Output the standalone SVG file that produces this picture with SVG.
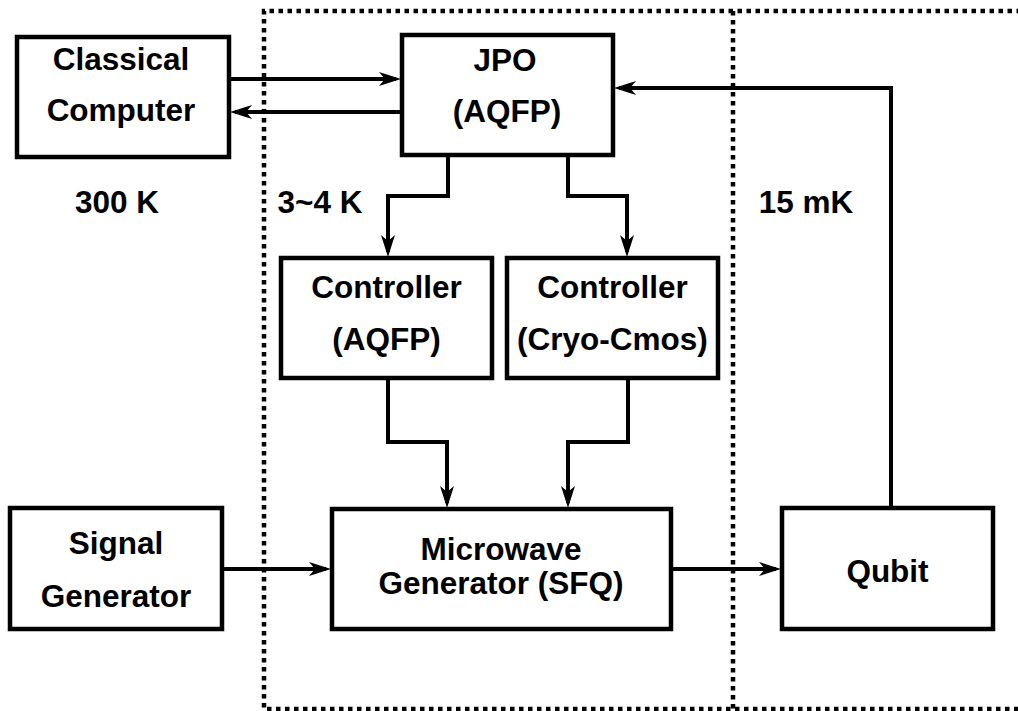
<svg xmlns="http://www.w3.org/2000/svg" width="1018" height="711" viewBox="0 0 1018 711">
<style>
.box{fill:#fff;stroke:#000;stroke-width:4.5}
.t{font-family:"Liberation Sans",Arial,sans-serif;font-weight:bold;font-size:31.5px;fill:#000;text-anchor:middle}
.c{fill:none;stroke:#000;stroke-width:4}
.dot{fill:none;stroke:#000;stroke-width:4.5;stroke-dasharray:4.5 4.5}
</style>
<defs>
<marker id="ah" markerUnits="userSpaceOnUse" markerWidth="24" markerHeight="18" viewBox="0 0 24 18" refX="18" refY="9" orient="auto">
<path d="M1,2 L23,9 L1,16 L7,9 Z" fill="#000"/>
</marker>
</defs>
<rect width="1018" height="711" fill="#fff"/>
<g id="regions">
<path class="dot" d="M1030,11 H264 V709 H1030"/>
<path class="dot" d="M733,11 V709"/>
<text class="t" x="117" y="213">300 K</text>
<text class="t" x="320" y="213">3~4 K</text>
<text class="t" x="806" y="213">15 mK</text>
</g>
<g id="connectors">
<path class="c" d="M229,79 H396" marker-end="url(#ah)"/>
<path class="c" d="M402,112 H235" marker-end="url(#ah)"/>
<path class="c" d="M891,508 V88 H619" marker-end="url(#ah)"/>
<path class="c" d="M448,155 V196 H388 V252" marker-end="url(#ah)"/>
<path class="c" d="M568,155 V196 H627 V252" marker-end="url(#ah)"/>
<path class="c" d="M388,378 V442 H447 V503" marker-end="url(#ah)"/>
<path class="c" d="M628,378 V442 H568 V503" marker-end="url(#ah)"/>
<path class="c" d="M222,569 H326" marker-end="url(#ah)"/>
<path class="c" d="M671,569 H776" marker-end="url(#ah)"/>
</g>
<g id="classical">
<rect class="box" x="17" y="37" width="212" height="120"/>
<text class="t" x="121" y="70">Classical</text>
<text class="t" x="121" y="121">Computer</text>
</g>
<g id="jpo">
<rect class="box" x="402" y="35" width="211" height="120"/>
<text class="t" x="505" y="71">JPO</text>
<text class="t" x="507" y="122">(AQFP)</text>
</g>
<g id="ctrl-aqfp">
<rect class="box" x="281" y="258" width="211" height="120"/>
<text class="t" x="386.5" y="298">Controller</text>
<text class="t" x="386.5" y="350">(AQFP)</text>
</g>
<g id="ctrl-cmos">
<rect class="box" x="507" y="258" width="211" height="120"/>
<text class="t" x="612.5" y="298">Controller</text>
<text class="t" x="612.5" y="350">(Cryo-Cmos)</text>
</g>
<g id="microwave">
<rect class="box" x="332" y="509" width="339" height="120"/>
<text class="t" x="501" y="560">Microwave</text>
<text class="t" x="501" y="594">Generator (SFQ)</text>
</g>
<g id="signal">
<rect class="box" x="10" y="508" width="212" height="121"/>
<text class="t" x="116" y="554">Signal</text>
<text class="t" x="116" y="607">Generator</text>
</g>
<g id="qubit">
<rect class="box" x="782" y="508" width="211" height="121"/>
<text class="t" x="887.5" y="582">Qubit</text>
</g>
</svg>
